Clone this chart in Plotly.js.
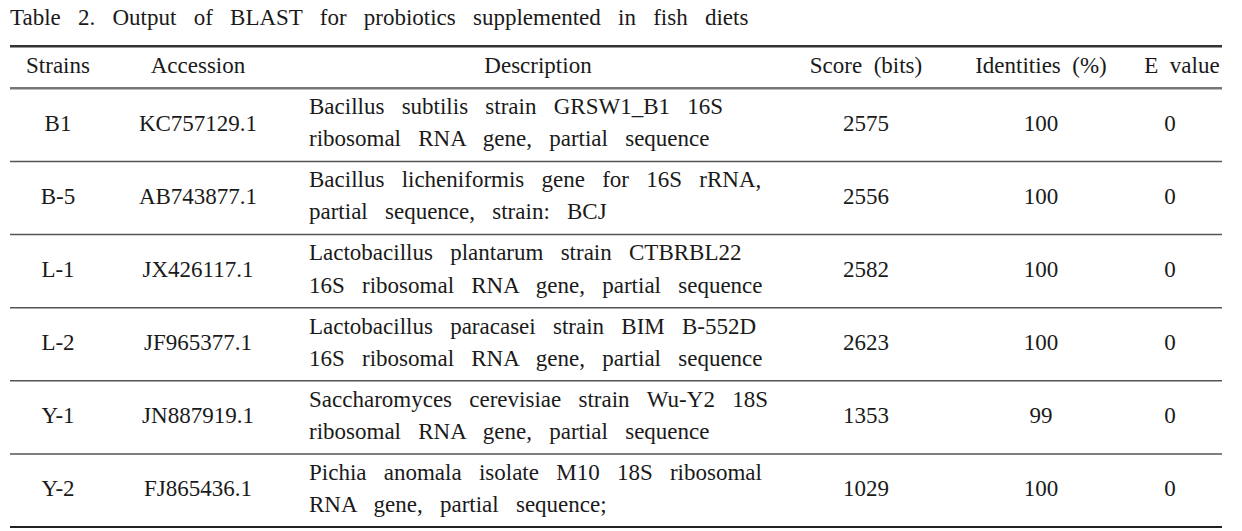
<!DOCTYPE html>
<html>
<head>
<meta charset="utf-8">
<script src="https://cdn.plot.ly/plotly-3.0.1.min.js"></script>
<style>html,body{margin:0;padding:0;background:#fff;}#chart{width:1242px;height:531px;}</style>
</head>
<body>
<div id="chart"></div>
<script>
var titleText = "Table 2. Output of BLAST for probiotics supplemented in fish diets";
var headers = ["Strains", "Accession", "Description", "Score (bits)", "Identities (%)", "E value"];
var strains = ["B1", "B-5", "L-1", "L-2", "Y-1", "Y-2"];
var accessions = ["KC757129.1", "AB743877.1", "JX426117.1", "JF965377.1", "JN887919.1", "FJ865436.1"];
var descLine1 = [
  "Bacillus subtilis strain GRSW1_B1 16S",
  "Bacillus licheniformis gene for 16S rRNA,",
  "Lactobacillus plantarum strain CTBRBL22",
  "Lactobacillus paracasei strain BIM B-552D",
  "Saccharomyces cerevisiae strain Wu-Y2 18S",
  "Pichia anomala isolate M10 18S ribosomal"
];
var descLine2 = [
  "ribosomal RNA gene, partial sequence",
  "partial sequence, strain: BCJ",
  "16S ribosomal RNA gene, partial sequence",
  "16S ribosomal RNA gene, partial sequence",
  "ribosomal RNA gene, partial sequence",
  "RNA gene, partial sequence;"
];
var scores = [2575, 2556, 2582, 2623, 1353, 1029];
var identities = [100, 100, 100, 100, 99, 100];
var evalues = [0, 0, 0, 0, 0, 0];

var FONT = "'Liberation Serif', 'Times New Roman', Times, serif";
var FS = 23;
var TXT = "#1a1a1a";
var HEADER_H = 0.575;
function spaced(s, k) {
  var gap = " " + new Array((k || 1) + 1).join("\u00A0");
  return s.split(" ").join(gap);
}

var rowsY = strains.map(function (_, i) { return i + 0.5; });
var n = strains.length;

function colTrace(xpos, vals, pos, dy, k) {
  return {
    type: "scatter", mode: "text",
    x: vals.map(function () { return xpos; }),
    y: rowsY.map(function (y) { return y + (dy || 0); }),
    text: vals.map(function (v) { return spaced(String(v), k); }),
    textposition: pos || "middle center",
    textfont: {family: FONT, size: FS, color: TXT},
    hoverinfo: "skip", showlegend: false, cliponaxis: false
  };
}

var headerX = [58, 198, 538, 866, 1041, 1182];
var headerTrace = {
  type: "scatter", mode: "text",
  x: headerX,
  y: headers.map(function () { return -HEADER_H / 2; }),
  text: headers.map(function (h) { return spaced(h, 1); }),
  textposition: "middle center",
  textfont: {family: FONT, size: FS, color: TXT},
  hoverinfo: "skip", showlegend: false, cliponaxis: false
};

var traces = [
  headerTrace,
  colTrace(58, strains),
  colTrace(198, accessions),
  colTrace(309, descLine1, "middle right", -0.225, 2),
  colTrace(309, descLine2, "middle right", 0.215, 2),
  colTrace(866, scores),
  colTrace(1041, identities),
  colTrace(1170, evalues)
];

var shapes = [];
var bounds = [-HEADER_H, 0];
for (var i = 1; i <= n; i++) bounds.push(i);
bounds.forEach(function (b, k) {
  var w = 1.5, c = "#555";
  if (k === 0) { w = 2.5; c = "#333"; }
  else if (k === 1) { w = 2.5; c = "#777"; }
  else if (k === bounds.length - 1) { w = 2; c = "#222"; }
  shapes.push({type: "line", xref: "x", yref: "y", x0: 10, x1: 1222, y0: b, y1: b,
    line: {color: c, width: w}});
});

var layout = {
  width: 1242, height: 531,
  margin: {l: 0, r: 0, t: 43, b: 1},
  paper_bgcolor: "#fff", plot_bgcolor: "#fff",
  font: {family: FONT},
  title: {text: spaced(titleText, 2), x: 10 / 1242, xanchor: "left", xref: "container",
    y: 1 - 17 / 531, yanchor: "middle", yref: "container",
    font: {family: FONT, size: FS, color: TXT}},
  xaxis: {range: [0, 1242], visible: false, fixedrange: true},
  yaxis: {range: [6.04, -0.62], visible: false, fixedrange: true},
  shapes: shapes,
  showlegend: false
};

Plotly.newPlot("chart", traces, layout, {displayModeBar: false, staticPlot: true});
</script>
</body>
</html>
